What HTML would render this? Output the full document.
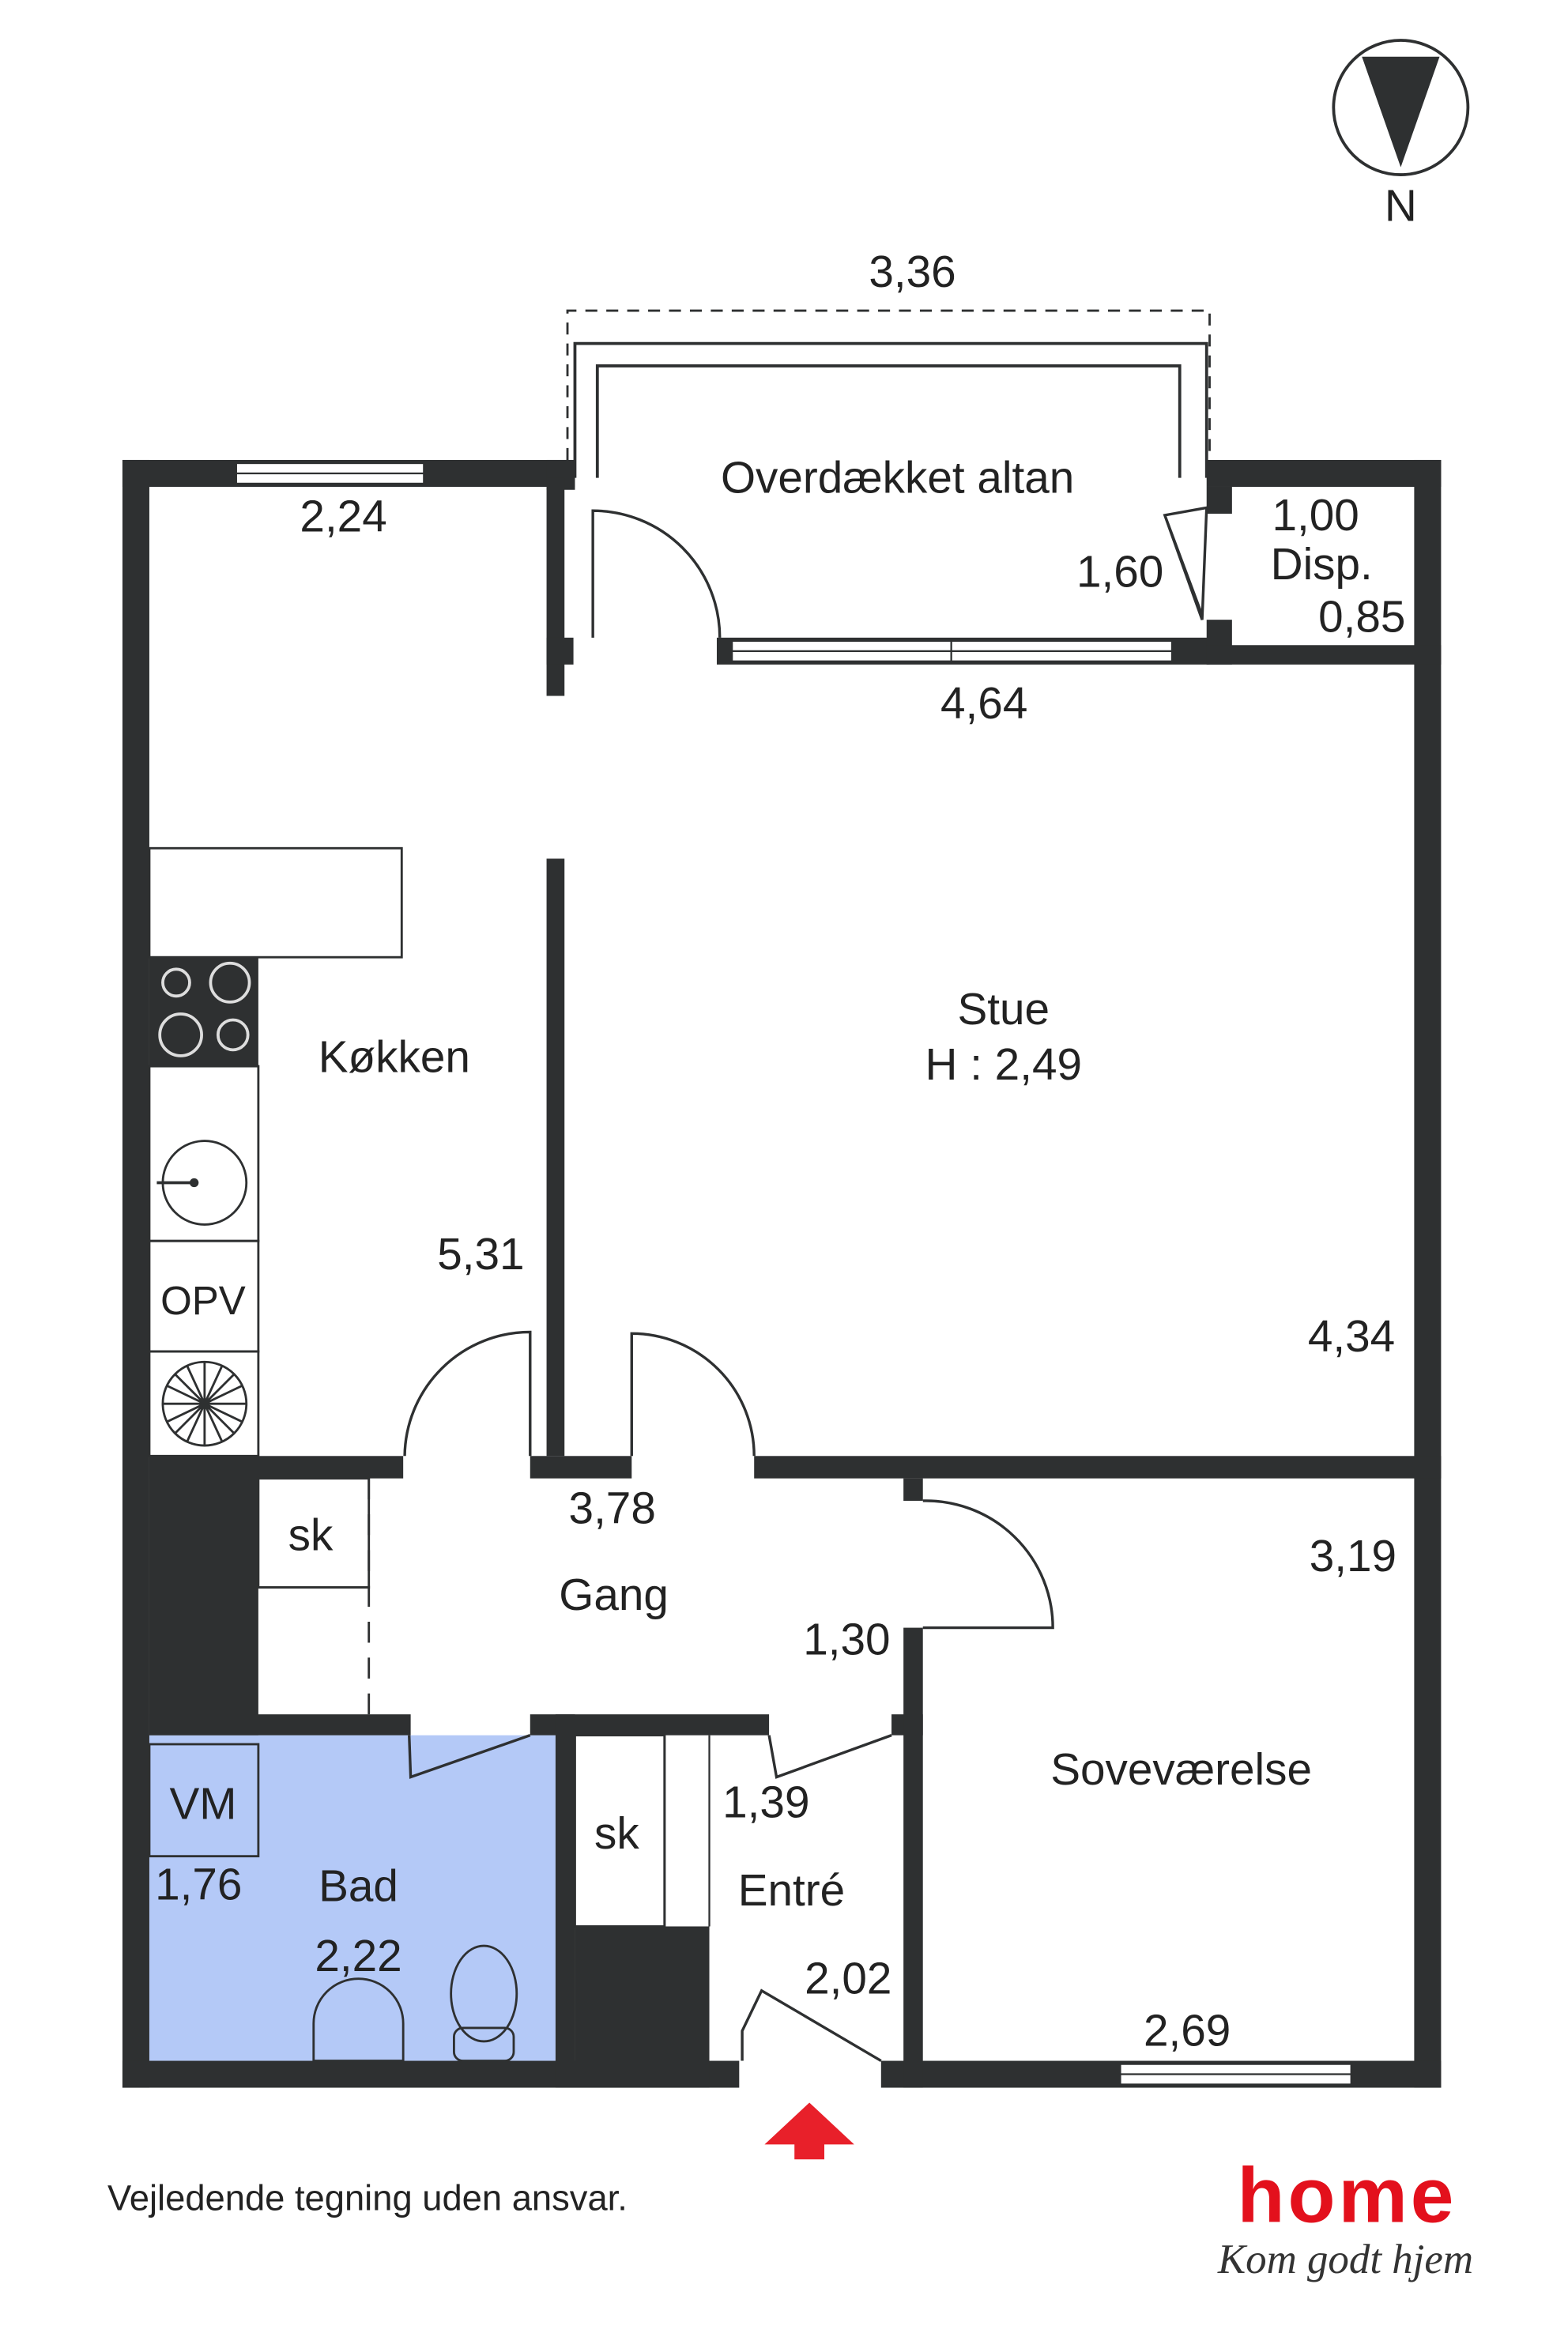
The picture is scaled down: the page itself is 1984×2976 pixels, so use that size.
<!DOCTYPE html>
<html><head><meta charset="utf-8"><style>
html,body{margin:0;padding:0;background:#fff}
svg{display:block}
text{font-family:"Liberation Sans",sans-serif;fill:#222}
</style></head><body>
<svg width="1984" height="2976" viewBox="0 0 1050 1575" preserveAspectRatio="none" xmlns="http://www.w3.org/2000/svg">
<rect width="1050" height="1575" fill="#fff"/>
<rect x="100" y="1162" width="272" height="218" fill="#b4c9f7"/>
<g fill="#2e3031">
<rect x="82" y="308" width="303" height="18"/>
<rect x="808" y="308" width="157" height="18"/>
<rect x="82" y="308" width="18" height="1090"/>
<rect x="947" y="308" width="18" height="1090"/>
<rect x="82" y="1380" width="413" height="18"/>
<rect x="590" y="1380" width="375" height="18"/>
<rect x="366" y="308" width="19" height="20"/>
<rect x="366" y="320" width="12" height="146"/>
<rect x="366" y="575" width="12" height="400"/>
<rect x="366" y="427" width="18" height="18"/>
<rect x="480" y="427" width="330" height="18"/>
<rect x="808" y="326" width="17" height="18"/>
<rect x="808" y="415" width="17" height="30"/>
<rect x="808" y="432" width="157" height="13"/>
<rect x="100" y="975" width="170" height="15"/>
<rect x="355" y="975" width="68" height="15"/>
<rect x="505" y="975" width="460" height="15"/>
<rect x="100" y="975" width="73" height="187"/>
<rect x="100" y="1148" width="175" height="14"/>
<rect x="355" y="1148" width="160" height="14"/>
<rect x="597" y="1148" width="21" height="14"/>
<rect x="372" y="1148" width="13" height="250"/>
<rect x="385" y="1290" width="90" height="108"/>
<rect x="605" y="990" width="13" height="15"/>
<rect x="605" y="1090" width="13" height="308"/>
<rect x="100" y="641" width="73" height="73"/>
</g>
<g fill="#fff" stroke="#2e3031" stroke-width="1.5">
<rect x="158" y="310" width="126" height="14"/>
<rect x="490" y="429" width="295" height="14"/>
<rect x="750" y="1382" width="155" height="14"/>
</g>
<g stroke="#2e3031" stroke-width="1.2">
<line x1="158" y1="317" x2="284" y2="317"/>
<line x1="490" y1="436" x2="785" y2="436"/>
<line x1="637" y1="429" x2="637" y2="443"/>
<line x1="750" y1="1389" x2="905" y2="1389"/>
</g>
<path d="M380 308 V208 H810 V308" fill="none" stroke="#2e3031" stroke-width="1.5" stroke-dasharray="8 6"/>
<path d="M385 320 V230 H808 V320 M400 320 V245 H790 V320" fill="none" stroke="#2e3031" stroke-width="2"/>
<g fill="none" stroke="#2e3031" stroke-width="1.8">
<path d="M397 427 V342 A85 85 0 0 1 482 427"/>
<path d="M780 345 L808 340 L805 415 Z M780 345 L805 412"/>
<path d="M355 975 V892 A84 84 0 0 0 271 975"/>
<path d="M423 975 V893 A82 82 0 0 1 505 975"/>
<path d="M618 1090 H705 A85 85 0 0 0 618 1005"/>
<path d="M355 1162 L275 1190 L274 1162"/>
<path d="M515 1162 L520 1190 L597 1162"/>
<path d="M497 1380 V1360 L510 1333 L590 1380"/>
</g>
<g fill="none" stroke="#2e3031" stroke-width="1.5">
<rect x="100" y="568" width="169" height="73"/>
<rect x="100" y="714" width="73" height="117"/>
<rect x="100" y="831" width="73" height="74"/>
<rect x="100" y="905" width="73" height="70"/>
<circle cx="137" cy="792" r="28"/>
<line x1="247" y1="990" x2="247" y2="1148" stroke-dasharray="14 10"/>
<rect x="173" y="990" width="74" height="73"/>
<line x1="173" y1="1063" x2="247" y2="1063"/>
<rect x="385" y="1162" width="60" height="128"/>
<rect x="100" y="1168" width="73" height="75"/>
<path d="M210 1380 V1355 A30 30 0 0 1 270 1355 V1380 Z"/>
<ellipse cx="324" cy="1335" rx="22" ry="32"/>
<rect x="304" y="1358" width="40" height="22" rx="6"/>
</g>
<line x1="445" y1="1162" x2="445" y2="1290" stroke="#2e3031" stroke-width="1.5"/>
<line x1="475" y1="1162" x2="475" y2="1290" stroke="#2e3031" stroke-width="1.2"/>
<g fill="none" stroke="#ddd" stroke-width="2">
<circle cx="118" cy="658" r="9"/><circle cx="154" cy="658" r="13"/>
<circle cx="121" cy="693" r="14"/><circle cx="156" cy="693" r="10"/>
</g>
<circle cx="130" cy="792" r="3" fill="#2e3031"/>
<line x1="105" y1="792" x2="130" y2="792" stroke="#2e3031" stroke-width="2"/>
<g stroke="#2e3031" stroke-width="1.5" fill="none">
<circle cx="137" cy="940" r="28"/>
<path d="M109 940H165M137 912V968M117 920L157 960M117 960L157 920M112 928L162 952M112 952L162 928M125 914L149 966M125 966L149 914"/>
</g>
<circle cx="938" cy="72" r="45" fill="none" stroke="#2e3031" stroke-width="2"/>
<path d="M912 38 L964 38 L938 112 Z" fill="#2e3031"/>
<text x="938" y="148" font-size="30" text-anchor="middle">N</text>
<path d="M542 1408 L572 1436 L552 1436 L552 1446 L532 1446 L532 1436 L512 1436 Z" fill="#e8202a"/>
<g font-size="30" text-anchor="middle">
<text x="611" y="192">3,36</text>
<text x="601" y="330">Overdækket altan</text>
<text x="230" y="356">2,24</text>
<text x="750" y="393">1,60</text>
<text x="881" y="355">1,00</text>
<text x="885" y="388">Disp.</text>
<text x="912" y="423">0,85</text>
<text x="659" y="481">4,64</text>
<text x="672" y="686">Stue</text>
<text x="672" y="723">H : 2,49</text>
<text x="264" y="718">Køkken</text>
<text x="322" y="850">5,31</text>
<text x="136" y="880" font-size="27">OPV</text>
<text x="905" y="905">4,34</text>
<text x="410" y="1020">3,78</text>
<text x="208" y="1038">sk</text>
<text x="906" y="1052">3,19</text>
<text x="411" y="1078">Gang</text>
<text x="567" y="1108">1,30</text>
<text x="791" y="1195">Soveværelse</text>
<text x="136" y="1218">VM</text>
<text x="513" y="1217">1,39</text>
<text x="413" y="1238">sk</text>
<text x="133" y="1272">1,76</text>
<text x="240" y="1273">Bad</text>
<text x="530" y="1276">Entré</text>
<text x="240" y="1320">2,22</text>
<text x="568" y="1335">2,02</text>
<text x="795" y="1370">2,69</text>
</g>
<text x="72" y="1480" font-size="24">Vejledende tegning uden ansvar.</text>
<text x="901" y="1488" font-size="52" font-weight="bold" text-anchor="middle" textLength="145" style="fill:#e3101c">home</text>
<text x="901" y="1522" font-size="28" font-style="italic" text-anchor="middle" style="font-family:'Liberation Serif',serif;fill:#333">Kom godt hjem</text>
</svg>
</body></html>
